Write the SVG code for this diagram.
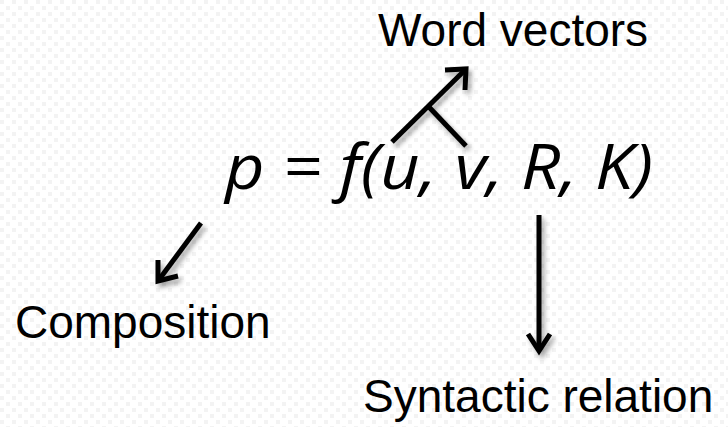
<svg xmlns="http://www.w3.org/2000/svg" width="728" height="427" viewBox="0 0 728 427">
<defs>
<pattern id="bg" width="12" height="12" patternUnits="userSpaceOnUse">
<rect width="12" height="12" fill="#ffffff"/>
<rect x="0" y="0" width="4" height="4" fill="#f3f3f3"/>
<rect x="6" y="6" width="4" height="4" fill="#f3f3f3"/>
</pattern>
<filter id="sh" x="-30%" y="-30%" width="160%" height="160%">
<feGaussianBlur in="SourceAlpha" stdDeviation="2.5"/>
<feOffset dx="3" dy="4" result="b"/>
<feComponentTransfer><feFuncA type="linear" slope="0.35"/></feComponentTransfer>
<feMerge><feMergeNode/><feMergeNode in="SourceGraphic"/></feMerge>
</filter>
<style>
.lbl{font-family:"Liberation Sans",Arial,sans-serif;font-size:46px;fill:#000}
.eq{font-family:"Open Sans","Noto Sans",sans-serif;font-style:italic;font-size:63px;fill:#000}
.ln{stroke:#000;stroke-width:5;fill:none;stroke-linecap:butt;stroke-linejoin:miter}
</style>
</defs>
<rect width="728" height="427" fill="url(#bg)"/>
<g id="formula">
<text class="eq" x="225" y="189" textLength="428" lengthAdjust="spacingAndGlyphs">p = f(u, v, R, K)</text>
</g>
<g id="word-vectors"><text class="lbl" x="378" y="46">Word vectors</text></g>
<g id="composition"><text class="lbl" x="15" y="338">Composition</text></g>
<g id="syntactic-relation"><text class="lbl" x="363" y="412">Syntactic relation</text></g>
<g id="connectors" filter="url(#sh)">
<path class="ln" d="M392,142 L466,69"/>
<path class="ln" d="M445,70 L466,69 L465,90"/>
<path class="ln" d="M428,106 L466,146"/>
<path class="ln" d="M201,223 L158,281"/>
<path class="ln" d="M158,260 L158,281 L178,276"/>
<path class="ln" d="M539,215 L539,351"/>
<path class="ln" d="M528,334 L539,351 L550,334"/>
</g>
</svg>
